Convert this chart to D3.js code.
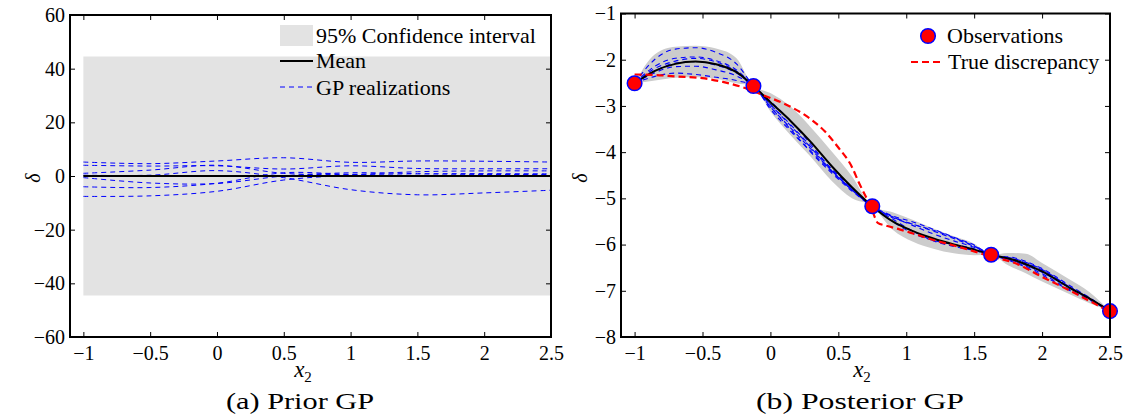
<!DOCTYPE html>
<html>
<head>
<meta charset="utf-8">
<title>Prior and posterior GP</title>
<script src="https://cdnjs.cloudflare.com/ajax/libs/d3/7.8.5/d3.min.js"></script>
<style>
  body { margin: 0; background: white; }
  text { font-family: "Liberation Serif", "Times New Roman", serif; fill: black; }
  .tick line { stroke: black; stroke-width: 1; }
  .legend text { font-size: 22px; }
  .caption { font-size: 24px; }
</style>
</head>
<body>
<svg id="chart" width="1127" height="419"></svg>
<script>
// ---- axis ticks ----
var xTicks = [-1, -0.5, 0, 0.5, 1, 1.5, 2, 2.5];
var xTickLabels = ["\u22121", "\u22120.5", "0", "0.5", "1", "1.5", "2", "2.5"];
var priorYTicks = [-60, -40, -20, 0, 20, 40, 60];
var priorYTickLabels = ["\u221260", "\u221240", "\u221220", "0", "20", "40", "60"];
var postYTicks = [-8, -7, -6, -5, -4, -3, -2, -1];
var postYTickLabels = ["\u22128", "\u22127", "\u22126", "\u22125", "\u22124", "\u22123", "\u22122", "\u22121"];

// ---- (a) prior GP ----
var priorX = [-1, -0.5, 0, 0.5, 1, 1.5, 2, 2.5];
var priorMean = [0, 0, 0, 0, 0, 0, 0, 0];
var priorUpper = [44.5, 44.5, 44.5, 44.5, 44.5, 44.5, 44.5, 44.5];
var priorLower = [-44.5, -44.5, -44.5, -44.5, -44.5, -44.5, -44.5, -44.5];
var priorReal1 = [5.2, 4.6, 5.6, 6.8, 5.1, 5.6, 5.5, 5.2];
var priorReal2 = [4.0, 3.7, 3.8, 2.6, 3.8, 2.8, 2.7, 2.7];
var priorReal3 = [1.0, 2.2, 4.0, 1.0, 0.6, 1.6, 1.9, 1.9];
var priorReal4 = [-0.6, -2.6, -2.8, 0.0, 1.2, 0.9, 0.9, 0.8];
var priorReal5 = [-4.0, -4.3, -2.7, 1.2, 0.6, 0.3, 0.4, 0.4];
var priorReal6 = [-7.6, -7.4, -5.7, -1.5, 0.2, 0.2, 0.5, 0.6];
var priorReal7 = [0.3, 0.3, 2.0, -0.6, -5.1, -7.0, -6.3, -5.3];

// ---- (b) posterior GP ----
var postX = [-1, -0.85, -0.7, -0.55, -0.4, -0.25, -0.125, 0, 0.15, 0.3, 0.45, 0.6, 0.75,
             0.9, 1.05, 1.2, 1.35, 1.5, 1.625, 1.8, 2.0, 2.2, 2.35, 2.5];
var postMean = [-2.51, -2.24, -2.09, -2.04, -2.10, -2.27, -2.57, -2.92, -3.33, -3.79, -4.30, -4.76, -5.17,
                -5.50, -5.71, -5.87, -6.00, -6.11, -6.22, -6.34, -6.58, -6.93, -7.17, -7.44];
var bandX = [-1, -0.85, -0.7, -0.55, -0.4, -0.25, -0.125, 0, 0.15, 0.3, 0.45, 0.6, 0.75,
             0.9, 1.05, 1.2, 1.35, 1.5, 1.625, 1.75, 1.88, 2.0, 2.2, 2.35, 2.5];
var bandUpper = [-2.51, -1.88, -1.72, -1.70, -1.76, -1.97, -2.57, -2.72, -3.02, -3.47, -3.98, -4.52, -5.17,
                 -5.30, -5.47, -5.65, -5.82, -5.98, -6.22, -6.18, -6.20, -6.40, -6.75, -7.03, -7.44];
var bandLower = [-2.51, -2.45, -2.39, -2.38, -2.41, -2.51, -2.57, -3.12, -3.64, -4.11, -4.62, -5.00, -5.17,
                 -5.68, -5.94, -6.09, -6.19, -6.23, -6.22, -6.45, -6.62, -6.80, -7.07, -7.27, -7.44];
var postReal1 = [-2.51, -1.99, -1.77, -1.74, -1.84, -2.09, -2.57, -2.97, -3.43, -3.91, -4.40, -4.81, -5.17,
                 -5.40, -5.59, -5.77, -5.92, -6.06, -6.22, -6.32, -6.55, -6.91, -7.16, -7.44];
var postReal2 = [-2.51, -2.19, -2.03, -1.97, -2.05, -2.25, -2.57, -3.02, -3.48, -3.94, -4.40, -4.81, -5.17,
                 -5.42, -5.56, -5.71, -5.87, -6.04, -6.22, -6.37, -6.63, -6.97, -7.19, -7.44];
var postReal3 = [-2.51, -2.36, -2.29, -2.32, -2.38, -2.45, -2.57, -3.07, -3.55, -3.99, -4.42, -4.81, -5.17,
                 -5.45, -5.71, -5.92, -6.04, -6.13, -6.22, -6.39, -6.66, -6.99, -7.20, -7.44];
var postReal4 = [-2.51, -2.28, -2.15, -2.14, -2.22, -2.35, -2.57, -2.97, -3.41, -3.89, -4.36, -4.78, -5.17,
                 -5.40, -5.56, -5.69, -5.85, -6.03, -6.22, -6.31, -6.54, -6.91, -7.17, -7.44];
var postReal5 = [-2.51, -2.14, -1.97, -1.94, -2.02, -2.22, -2.57, -2.90, -3.33, -3.84, -4.38, -4.82, -5.17,
                 -5.50, -5.76, -5.91, -6.00, -6.09, -6.22, -6.36, -6.60, -6.93, -7.17, -7.44];
var postReal6 = [-2.51, -2.24, -2.07, -2.04, -2.12, -2.29, -2.57, -3.02, -3.51, -4.01, -4.45, -4.84, -5.17,
                 -5.38, -5.51, -5.67, -5.84, -6.01, -6.22, -6.29, -6.52, -6.88, -7.15, -7.44];
var trueX = [-1, -0.85, -0.7, -0.5, -0.35, -0.2, -0.05, 0.1, 0.25, 0.4, 0.5, 0.6, 0.65, 0.7, 0.74,
             0.77, 0.79, 0.85, 0.95, 1.05, 1.2, 1.4, 1.625, 1.8, 2.0, 2.2, 2.4, 2.5];
var trueY = [-2.32, -2.33, -2.36, -2.40, -2.48, -2.60, -2.77, -2.95, -3.19, -3.55, -3.90, -4.32, -4.65, -4.95, -5.17,
             -5.42, -5.53, -5.59, -5.67, -5.76, -5.90, -6.06, -6.26, -6.40, -6.70, -6.99, -7.30, -7.46];
var obsX = [-1, -0.125, 0.75, 1.625, 2.5];
var obsY = [-2.51, -2.57, -5.17, -6.22, -7.44];

var svg = d3.select("#chart");

function drawFrame(g, x, y, yTicks, yLabels) {
  var x0 = x.range()[0], x1 = x.range()[1], y0 = y.range()[0], y1 = y.range()[1];
  g.append("g").attr("transform", "translate(0," + y0 + ")")
    .call(d3.axisBottom(x).tickValues(xTicks).tickSize(-5).tickSizeOuter(0).tickPadding(9)
      .tickFormat(function(d, i) { return xTickLabels[i]; }));
  g.append("g").attr("transform", "translate(0," + y1 + ")")
    .call(d3.axisTop(x).tickValues(xTicks).tickSize(-5).tickSizeOuter(0).tickFormat(""));
  g.append("g").attr("transform", "translate(" + x0 + ",0)")
    .call(d3.axisLeft(y).tickValues(yTicks).tickSize(-5).tickSizeOuter(0).tickPadding(5)
      .tickFormat(function(d, i) { return yLabels[i]; }));
  g.append("g").attr("transform", "translate(" + x1 + ",0)")
    .call(d3.axisRight(y).tickValues(yTicks).tickSize(-5).tickSizeOuter(0).tickFormat(""));
  g.selectAll(".domain").remove();
  g.selectAll("g").attr("font-family", "Liberation Serif").attr("font-size", 20);
  g.selectAll(".tick text")
    .attr("fill", "black")
    .style("font-family", "'Liberation Serif', serif")
    .style("font-size", "20px");
  g.append("rect")
    .attr("x", x0).attr("y", y1)
    .attr("width", x1 - x0).attr("height", y0 - y1)
    .attr("fill", "none").attr("stroke", "black").attr("stroke-width", 2);
}

function series(xs, ys) {
  return xs.map(function(d, i) { return { x: d, y: ys[i] }; });
}

// ================= panel (a) =================
var xa = d3.scaleLinear().domain([-1.1, 2.5]).range([70, 551]);
var ya = d3.scaleLinear().domain([-60, 60]).range([337, 15]);
var pa = svg.append("g");

var areaA = d3.area()
  .x(function(d) { return xa(d.x); })
  .y0(function(d) { return ya(d.lo); })
  .y1(function(d) { return ya(d.hi); });
pa.append("path")
  .datum(priorX.map(function(d, i) { return { x: d, lo: priorLower[i], hi: priorUpper[i] }; }))
  .attr("d", areaA).attr("fill", "#e3e3e3");

var lineA = d3.line()
  .x(function(d) { return xa(d.x); })
  .y(function(d) { return ya(d.y); })
  .curve(d3.curveCatmullRom);

[priorReal1, priorReal2, priorReal3, priorReal4, priorReal5, priorReal6, priorReal7].forEach(function(r) {
  pa.append("path").datum(series(priorX, r)).attr("d", lineA)
    .attr("fill", "none").attr("stroke", "#0000ff").attr("stroke-width", 1)
    .attr("stroke-dasharray", "5,4");
});
pa.append("path").datum(series(priorX, priorMean)).attr("d", lineA)
  .attr("fill", "none").attr("stroke", "black").attr("stroke-width", 2.2);

drawFrame(pa, xa, ya, priorYTicks, priorYTickLabels);

var legA = pa.append("g").attr("class", "legend");
legA.append("rect").attr("x", 280).attr("y", 25).attr("width", 33).attr("height", 21).attr("fill", "#e3e3e3");
legA.append("text").attr("x", 316).attr("y", 43).text("95% Confidence interval");
legA.append("line").attr("x1", 280).attr("x2", 313).attr("y1", 61).attr("y2", 61)
  .attr("stroke", "black").attr("stroke-width", 2.2);
legA.append("text").attr("x", 316).attr("y", 68).text("Mean");
legA.append("line").attr("x1", 280).attr("x2", 313).attr("y1", 87).attr("y2", 87)
  .attr("stroke", "#0000ff").attr("stroke-width", 1).attr("stroke-dasharray", "5,4");
legA.append("text").attr("x", 316).attr("y", 95).text("GP realizations");

// ================= panel (b) =================
var xb = d3.scaleLinear().domain([-1.1, 2.5]).range([621, 1110]);
var yb = d3.scaleLinear().domain([-8, -1]).range([337, 13.5]);
var pb = svg.append("g");

var areaB = d3.area()
  .x(function(d) { return xb(d.x); })
  .y0(function(d) { return yb(d.lo); })
  .y1(function(d) { return yb(d.hi); })
  .curve(d3.curveMonotoneX);
pb.append("path")
  .datum(bandX.map(function(d, i) { return { x: d, lo: bandLower[i], hi: bandUpper[i] }; }))
  .attr("d", areaB).attr("fill", "#cccccc");

var lineB = d3.line()
  .x(function(d) { return xb(d.x); })
  .y(function(d) { return yb(d.y); })
  .curve(d3.curveMonotoneX);

[postReal1, postReal2, postReal3, postReal4, postReal5, postReal6].forEach(function(r) {
  pb.append("path").datum(series(postX, r)).attr("d", lineB)
    .attr("fill", "none").attr("stroke", "#0000ff").attr("stroke-width", 1.1)
    .attr("stroke-dasharray", "5,4");
});
pb.append("path").datum(series(postX, postMean)).attr("d", lineB)
  .attr("fill", "none").attr("stroke", "black").attr("stroke-width", 2);
pb.append("path").datum(series(trueX, trueY)).attr("d", lineB)
  .attr("fill", "none").attr("stroke", "#ff0000").attr("stroke-width", 2.2)
  .attr("stroke-dasharray", "7,4");

pb.selectAll("circle.obs")
  .data(series(obsX, obsY))
  .enter().append("circle")
  .attr("class", "obs")
  .attr("cx", function(d) { return xb(d.x); })
  .attr("cy", function(d) { return yb(d.y); })
  .attr("r", 7.3)
  .attr("fill", "#ff0000").attr("stroke", "#0000ff").attr("stroke-width", 1.5);

drawFrame(pb, xb, yb, postYTicks, postYTickLabels);

var legB = pb.append("g").attr("class", "legend");
legB.append("circle").attr("cx", 928).attr("cy", 36).attr("r", 7.3)
  .attr("fill", "#ff0000").attr("stroke", "#0000ff").attr("stroke-width", 1.5);
legB.append("text").attr("x", 947).attr("y", 43).text("Observations");
legB.append("line").attr("x1", 911).attr("x2", 944).attr("y1", 62).attr("y2", 62)
  .attr("stroke", "#ff0000").attr("stroke-width", 2.2).attr("stroke-dasharray", "7,4");
legB.append("text").attr("x", 948).attr("y", 69).text("True discrepancy");

// ---- axis titles and captions ----
function xLabel(cx) {
  var t = svg.append("text").attr("x", cx).attr("y", 377).attr("text-anchor", "middle")
    .style("font-size", "23px");
  t.append("tspan").style("font-style", "italic").text("x");
  t.append("tspan").attr("dy", 5).style("font-size", "15px").text("2");
}
xLabel(303);
xLabel(862);

svg.append("text").attr("transform", "translate(40,178) rotate(-90)")
  .attr("text-anchor", "middle").style("font-size", "20px").style("font-style", "italic").text("\u03b4");
svg.append("text").attr("transform", "translate(587,178) rotate(-90)")
  .attr("text-anchor", "middle").style("font-size", "20px").style("font-style", "italic").text("\u03b4");

svg.append("text").attr("class", "caption").attr("x", 300).attr("y", 409)
  .attr("text-anchor", "middle").attr("textLength", 148).attr("lengthAdjust", "spacingAndGlyphs")
  .text("(a) Prior GP");
svg.append("text").attr("class", "caption").attr("x", 860).attr("y", 409)
  .attr("text-anchor", "middle").attr("textLength", 208).attr("lengthAdjust", "spacingAndGlyphs")
  .text("(b) Posterior GP");
</script>
</body>
</html>
